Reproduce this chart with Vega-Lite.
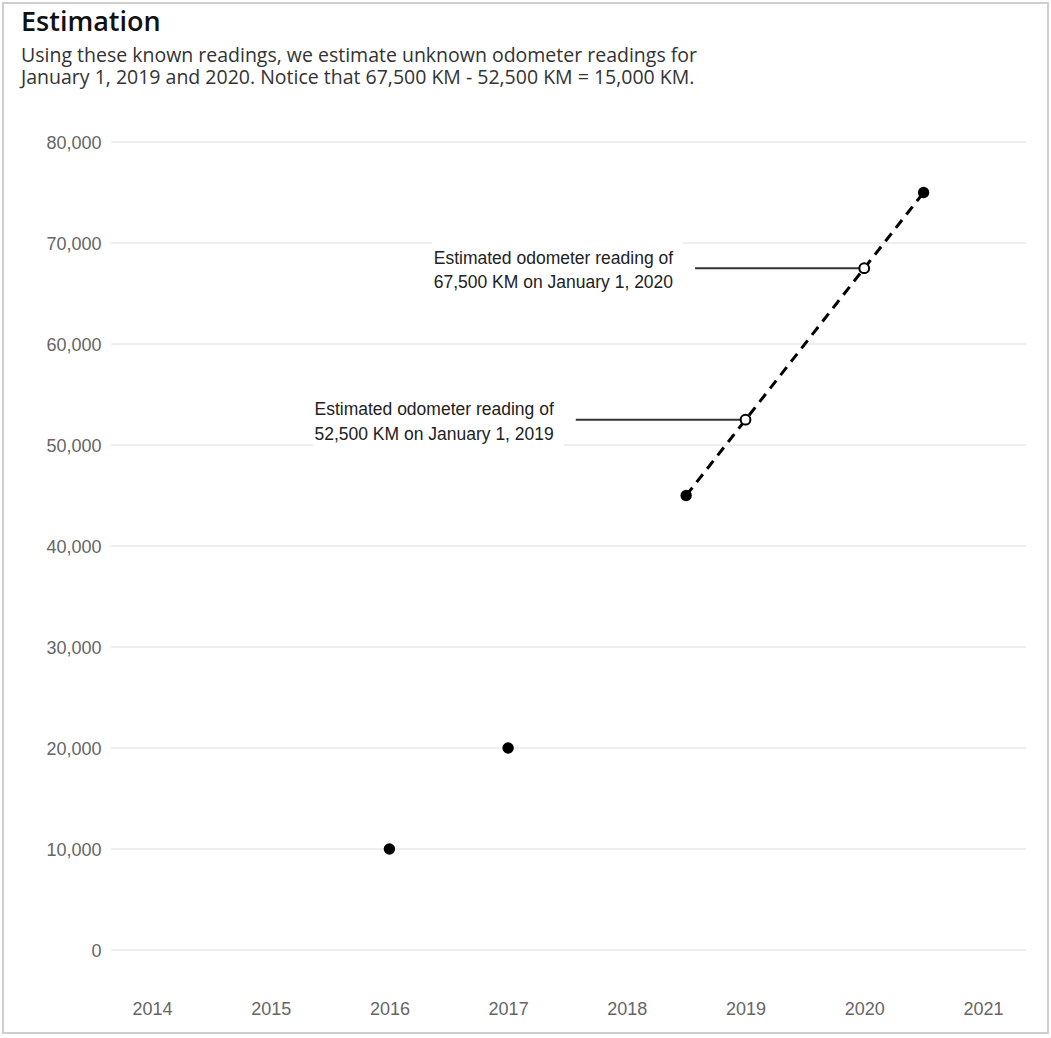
{
  "$schema": "https://vega.github.io/schema/vega-lite/v6.json",
  "width": 1045,
  "height": 1030,
  "autosize": {"type": "none"},
  "padding": {"left": 3, "top": 3, "right": 3, "bottom": 5},
  "title": {
    "text": "Estimation",
    "subtitle": [
      "Using these known readings, we estimate unknown odometer readings for",
      "January 1, 2019 and 2020. Notice that 67,500 KM - 52,500 KM = 15,000 KM."
    ],
    "anchor": "start",
    "frame": "group",
    "orient": "top",
    "offset": -85.1,
    "dx": 18,
    "font": "Open Sans",
    "fontSize": 27,
    "fontWeight": 600,
    "color": "#111111",
    "subtitleFont": "Open Sans",
    "subtitleFontSize": 19.5,
    "subtitleColor": "#333333",
    "subtitleLineHeight": 22,
    "subtitlePadding": 9.4
  },
  "config": {
    "view": {"stroke": "#cfcfcf", "strokeWidth": 2},
    "axis": {
      "labelFont": "Liberation Sans",
      "labelFontSize": 18,
      "labelColor": "#666666",
      "grid": false,
      "domain": false,
      "ticks": false,
      "title": null
    }
  },
  "datasets": {
    "grid": [
      {"value": 0}, {"value": 10000}, {"value": 20000}, {"value": 30000}, {"value": 40000},
      {"value": 50000}, {"value": 60000}, {"value": 70000}, {"value": 80000}
    ],
    "known": [
      {"year": 2016, "reading": 10000},
      {"year": 2017, "reading": 20000},
      {"year": 2018.5, "reading": 45000},
      {"year": 2020.5, "reading": 75000}
    ],
    "trend": [
      {"year": 2018.5, "reading": 45000},
      {"year": 2019, "reading": 52500},
      {"year": 2020, "reading": 67500},
      {"year": 2020.5, "reading": 75000}
    ],
    "estimates": [
      {"year": 2019, "reading": 52500, "start": 2017.57, "label": ["Estimated odometer reading of", "52,500 KM on January 1, 2019"]},
      {"year": 2020, "reading": 67500, "start": 2018.575, "label": ["Estimated odometer reading of", "67,500 KM on January 1, 2020"]}
    ]
  },
  "layer": [
    {
      "data": {"name": "grid"},
      "mark": {"type": "rule", "color": "#e8e8e8", "strokeWidth": 1.5},
      "encoding": {
        "y": {"field": "value", "type": "quantitative"},
        "x": {"datum": 2013.655, "type": "quantitative"},
        "x2": {"datum": 2021.363}
      }
    },
    {
      "data": {"name": "estimates"},
      "mark": {"type": "rect", "color": "white", "xOffset": -263, "x2Offset": -12, "yOffset": -30, "y2Offset": 30},
      "encoding": {
        "x": {"field": "start", "type": "quantitative"},
        "x2": {"field": "start"},
        "y": {"field": "reading", "type": "quantitative"},
        "y2": {"field": "reading"}
      }
    },
    {
      "data": {"name": "estimates"},
      "mark": {"type": "rule", "color": "#333333", "strokeWidth": 2},
      "encoding": {
        "x": {"field": "start", "type": "quantitative"},
        "x2": {"field": "year"},
        "y": {"field": "reading", "type": "quantitative"}
      }
    },
    {
      "data": {"name": "estimates"},
      "mark": {"type": "text", "align": "right", "baseline": "alphabetic", "dx": -22, "dy": -4.5, "lineHeight": 24.5, "font": "Liberation Sans", "fontSize": 17.5, "color": "#222222"},
      "encoding": {
        "x": {"field": "start", "type": "quantitative"},
        "y": {"field": "reading", "type": "quantitative"},
        "text": {"field": "label", "type": "nominal"}
      }
    },
    {
      "data": {"name": "trend"},
      "mark": {"type": "line", "color": "#000000", "strokeWidth": 3, "strokeDash": [10, 7]},
      "encoding": {
        "x": {"field": "year", "type": "quantitative"},
        "y": {"field": "reading", "type": "quantitative"}
      }
    },
    {
      "data": {"name": "estimates"},
      "mark": {"type": "point", "shape": "circle", "filled": false, "fill": "white", "fillOpacity": 1, "stroke": "#000000", "strokeWidth": 2, "size": 95, "opacity": 1},
      "encoding": {
        "x": {"field": "year", "type": "quantitative"},
        "y": {"field": "reading", "type": "quantitative"}
      }
    },
    {
      "data": {"name": "known"},
      "mark": {"type": "circle", "color": "#000000", "size": 130, "opacity": 1},
      "encoding": {
        "x": {
          "field": "year",
          "type": "quantitative",
          "scale": {"domain": [2012.745, 2021.548], "nice": false, "zero": false},
          "axis": {"values": [2014, 2015, 2016, 2017, 2018, 2019, 2020, 2021], "format": "d", "orient": "bottom", "offset": -33, "labelPadding": 0}
        },
        "y": {
          "field": "reading",
          "type": "quantitative",
          "scale": {"domain": [-8218, 93762], "nice": false, "zero": false},
          "axis": {"values": [0, 10000, 20000, 30000, 40000, 50000, 60000, 70000, 80000], "format": ",.0f", "orient": "left", "offset": -106, "labelPadding": 8, "labelOffset": 2}
        }
      }
    }
  ]
}
